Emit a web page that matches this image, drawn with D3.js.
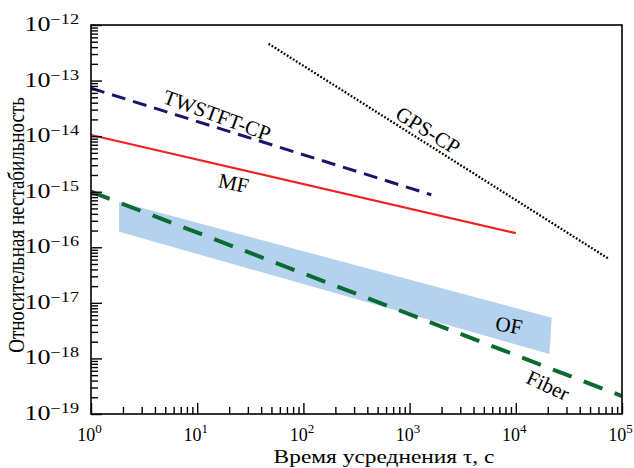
<!DOCTYPE html>
<html>
<head>
<meta charset="utf-8">
<script src="https://cdn.jsdelivr.net/npm/d3@7"></script>
<style>
  body { margin: 0; background: #fff; }
  text { font-family: "Liberation Serif", "DejaVu Serif", serif; fill: #000; }
</style>
</head>
<body>
<div id="chart"></div>
<script>
// decades shown on the axes
const xExp = [0, 1, 2, 3, 4, 5];
const yExp = [-12, -13, -14, -15, -16, -17, -18, -19];

// curves: averaging time (s) and relative instability
const mfTau = [1, 1e4];
const mfVal = [1.05e-14, 1.8e-16];
const twTau = [1, 1600];
const twVal = [7.3e-14, 8.8e-16];
const gpsTau = [47, 7.5e4];
const gpsVal = [4.6e-13, 6.2e-17];
const fiberTau = [1, 1e5];
const fiberVal = [1e-15, 2.1e-19];
// OF band corners (clockwise)
const ofTau = [1.84, 2.18e4, 2.07e4, 1.84];
const ofVal = [6.6e-16, 5.4e-18, 1.2e-18, 1.9e-16];

// curve labels
const labelText = ['TWSTFT-CP', 'MF', 'GPS-CP', 'OF', 'Fiber'];
const labelTau = [15.4, 22, 1490, 8630, 2.01e4];
const labelVal = [2.4e-14, 1.44e-15, 1.28e-14, 4e-18, 3.3e-19];
const labelAngle = [20, 12, 32, 10, 25];

const width = 634, height = 468;
const mLeft = 91, mRight = 622, mTop = 25, mBottom = 414;

const svg = d3.select('#chart').append('svg')
    .attr('width', width).attr('height', height);

const x = d3.scaleLog().domain([1, 1e5]).range([mLeft, mRight]);
const y = d3.scaleLog().domain([1e-12, 1e-19]).range([mTop, mBottom]);

const zip = (a, b) => a.map((d, i) => [d, b[i]]);
const line = d3.line().x(d => x(d[0])).y(d => y(d[1]));

// OF band
svg.append('path')
    .attr('d', line(zip(ofTau, ofVal)) + 'Z')
    .attr('fill', '#b4d2ee');

// curves
svg.append('path').attr('d', line(zip(fiberTau, fiberVal)))
    .attr('fill', 'none').attr('stroke', '#0b6a30').attr('stroke-width', 4)
    .attr('stroke-dasharray', '20,13');
svg.append('path').attr('d', line(zip(mfTau, mfVal)))
    .attr('fill', 'none').attr('stroke', '#ee2222').attr('stroke-width', 2.2);
svg.append('path').attr('d', line(zip(twTau, twVal)))
    .attr('fill', 'none').attr('stroke', '#16166a').attr('stroke-width', 3)
    .attr('stroke-dasharray', '14,8');
svg.append('path').attr('d', line(zip(gpsTau, gpsVal)))
    .attr('fill', 'none').attr('stroke', '#000').attr('stroke-width', 2.3)
    .attr('stroke-dasharray', '1.8,1.8');

// labels
labelText.forEach((t, i) => {
    svg.append('text')
        .attr('transform', 'translate(' + x(labelTau[i]) + ',' + y(labelVal[i]) + ') rotate(' + labelAngle[i] + ')')
        .attr('text-anchor', 'middle').attr('dy', '0.35em')
        .style('font-size', '21px')
        .text(t);
});

// minor tick values
const minor = (lo, hi) => {
    const out = [];
    for (let e = lo; e < hi; e++) for (let m = 2; m < 10; m++) out.push(m * Math.pow(10, e));
    return out;
};

// x axis, ticks pointing into the plot
const gx = svg.append('g').attr('transform', 'translate(0,' + mBottom + ')');
gx.append('g').call(d3.axisTop(x).tickValues(minor(0, 5)).tickSize(7).tickSizeOuter(0).tickFormat(''));
gx.append('g').call(d3.axisTop(x).tickValues(xExp.map(e => Math.pow(10, e))).tickSize(11).tickSizeOuter(0).tickFormat(''));
gx.selectAll('.domain').remove();
gx.selectAll('line').attr('stroke', '#000').attr('stroke-width', 1.4);

const gy = svg.append('g').attr('transform', 'translate(' + mLeft + ',0)');
gy.append('g').call(d3.axisRight(y).tickValues(minor(-19, -12)).tickSize(7).tickSizeOuter(0).tickFormat(''));
gy.append('g').call(d3.axisRight(y).tickValues(yExp.map(e => Math.pow(10, e))).tickSize(11).tickSizeOuter(0).tickFormat(''));
gy.selectAll('.domain').remove();
gy.selectAll('line').attr('stroke', '#000').attr('stroke-width', 1.4);

// frame
svg.append('rect')
    .attr('x', mLeft).attr('y', mTop).attr('width', mRight - mLeft).attr('height', mBottom - mTop)
    .attr('fill', 'none').attr('stroke', '#000').attr('stroke-width', 1.6);

// tick labels
xExp.forEach(e => {
    const t = svg.append('text')
        .attr('x', x(Math.pow(10, e)) - 1.5).attr('y', 441)
        .attr('text-anchor', 'middle')
        .style('font-size', '18px');
    t.append('tspan').text('10');
    t.append('tspan').attr('dy', -8).style('font-size', '13px').text(e);
});

yExp.forEach(e => {
    const t = svg.append('text')
        .attr('transform', 'translate(79,' + (y(Math.pow(10, e)) + 6) + ') scale(1.3,1)')
        .attr('text-anchor', 'end')
        .style('font-size', '20px');
    t.append('tspan').text('10');
    t.append('tspan').attr('dy', -7).style('font-size', '14px').text('\u2212' + (-e));
});

// axis titles
svg.append('text')
    .attr('transform', 'translate(384,463) scale(1.3,1)')
    .attr('text-anchor', 'middle')
    .style('font-size', '18px')
    .text('Время усреднения τ, с');

svg.append('text')
    .attr('transform', 'translate(24,225) rotate(-90) scale(1,1.25)')
    .attr('text-anchor', 'middle')
    .style('font-size', '19px')
    .text('Относительная нестабильность');
</script>
</body>
</html>
